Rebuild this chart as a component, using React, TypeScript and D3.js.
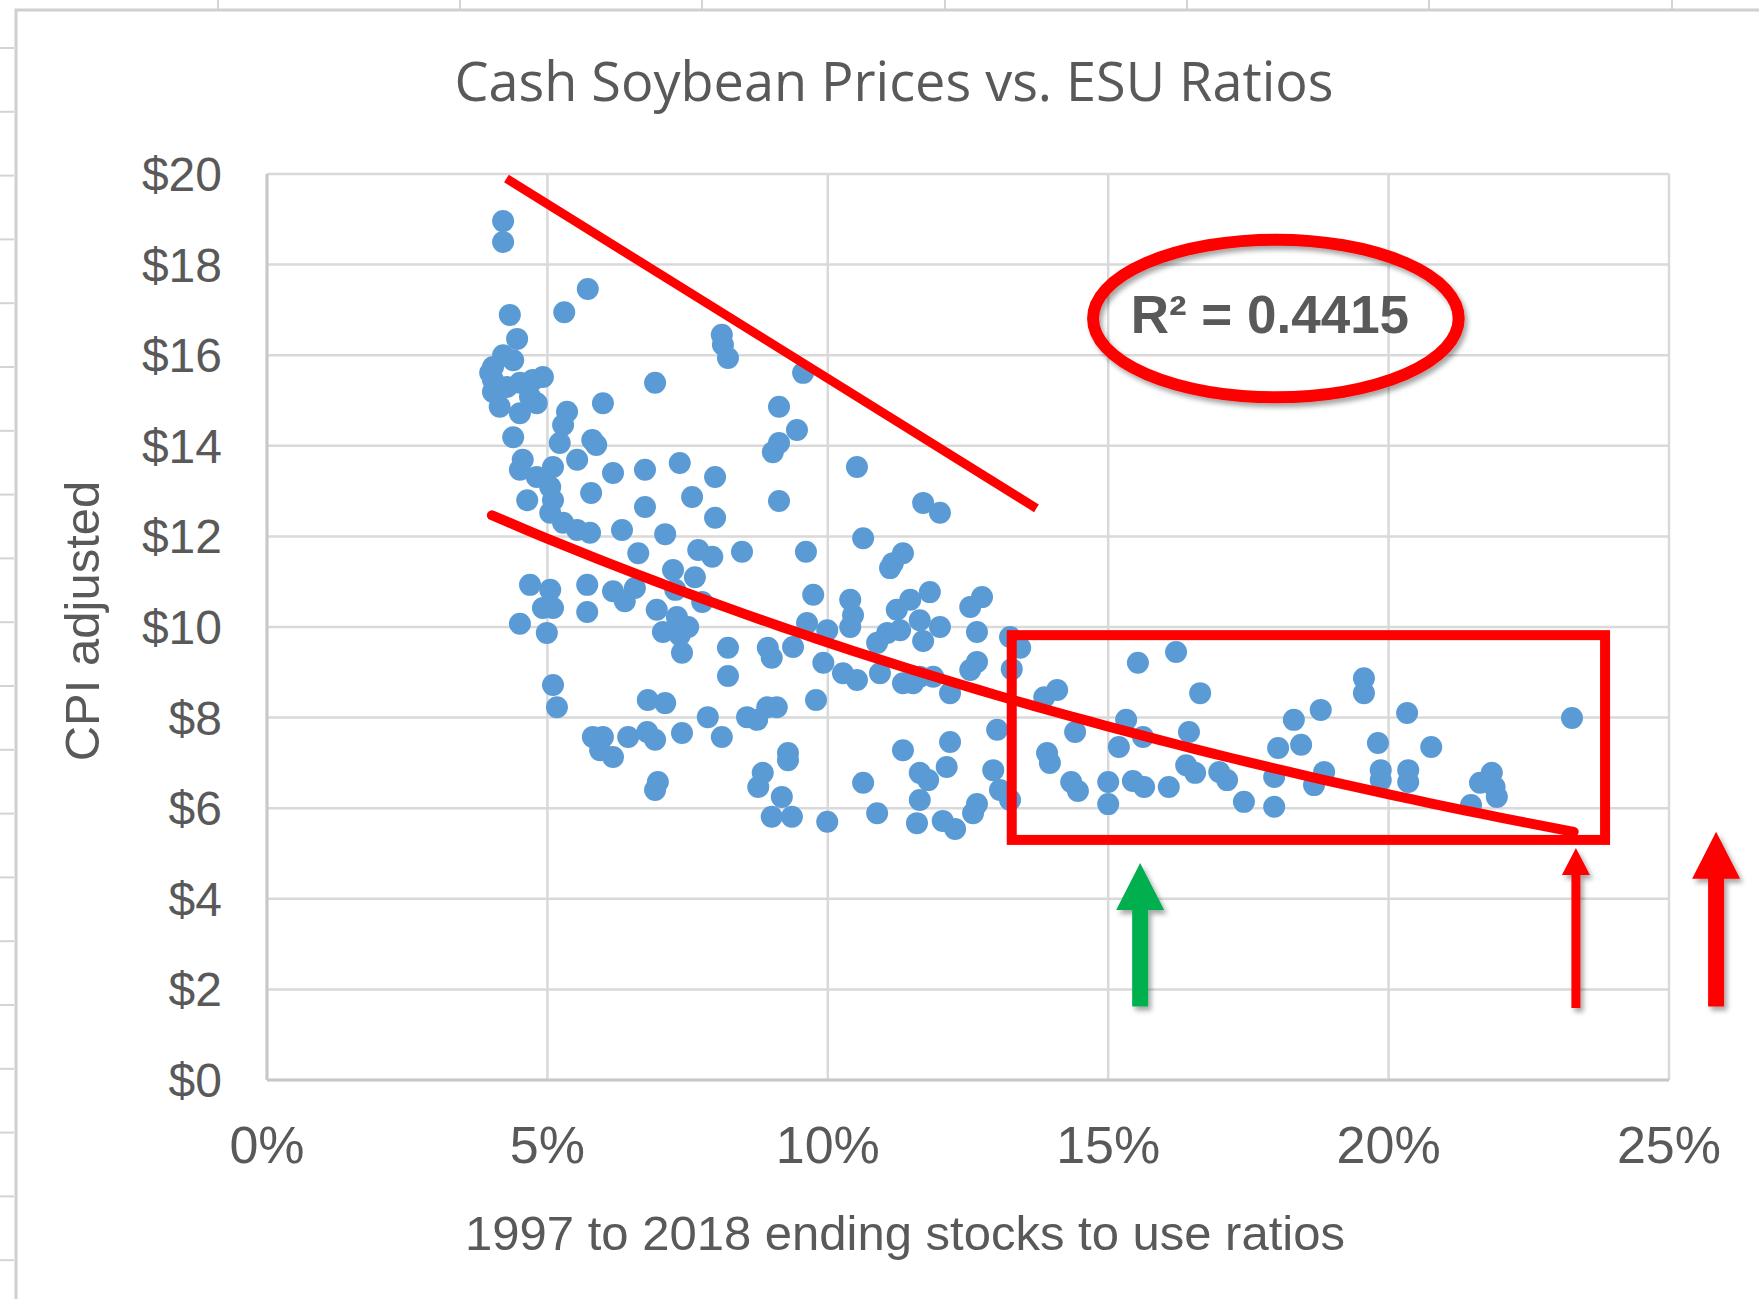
import React from "react";
import * as d3 from "d3";

const W = 1759;
const H = 1299;

const stocksToUse = [
  0.0421, 0.0421, 0.0433, 0.053, 0.0572, 0.0446, 0.0421, 0.0439, 0.0403, 0.0398,
  0.0492, 0.0474, 0.0451, 0.0428, 0.0403, 0.0415, 0.0451, 0.0481, 0.0469, 0.0403,
  0.0439, 0.0692, 0.0599, 0.0811, 0.0813, 0.0822, 0.0956, 0.0913, 0.0945, 0.0913,
  0.0902, 0.0535, 0.0528, 0.0522, 0.058, 0.0587, 0.0553, 0.0456, 0.0451, 0.0481,
  0.051, 0.0617, 0.0674, 0.0736, 0.0799, 0.1052, 0.0464, 0.0505, 0.051, 0.0505,
  0.0578, 0.0674, 0.0758, 0.0799, 0.0913, 0.117, 0.12, 0.0528, 0.0553, 0.0576,
  0.0633, 0.071, 0.0769, 0.0794, 0.0847, 0.0961, 0.1063, 0.1134, 0.1116, 0.1111,
  0.0662, 0.0469, 0.0505, 0.051, 0.0492, 0.0571, 0.0571, 0.0617, 0.0638, 0.0656,
  0.0451, 0.0499, 0.0695, 0.0706, 0.0731, 0.0751, 0.0736, 0.074, 0.0724, 0.0728,
  0.0763, 0.0776, 0.0822, 0.0822, 0.0893, 0.09, 0.0938, 0.0974, 0.104, 0.1045,
  0.104, 0.0963, 0.0999, 0.0992, 0.1027, 0.1052, 0.1088, 0.1093, 0.1134, 0.1164,
  0.1123, 0.1147, 0.1182, 0.1164, 0.117, 0.1129, 0.1106, 0.12, 0.051, 0.0517,
  0.0679, 0.071, 0.0581, 0.0599, 0.0594, 0.0617, 0.0644, 0.0678, 0.0692, 0.074,
  0.0786, 0.0811, 0.0856, 0.0874, 0.0892, 0.0909, 0.0979, 0.1134, 0.0697, 0.0692,
  0.0884, 0.0876, 0.0929, 0.0929, 0.0918, 0.09, 0.0936, 0.0999, 0.1063, 0.1088,
  0.1164, 0.1179, 0.1164, 0.1159, 0.1205, 0.1227, 0.1212, 0.1218, 0.1266, 0.1259,
  0.1295, 0.1307, 0.1325, 0.1302, 0.1391, 0.1396, 0.1386, 0.1409, 0.1254, 0.1275,
  0.1266, 0.1325, 0.1343, 0.1328, 0.1266, 0.1254, 0.1188, 0.1218, 0.1152, 0.1553,
  0.1621, 0.1664, 0.1441, 0.1532, 0.1519, 0.1562, 0.1434, 0.1446, 0.15, 0.15,
  0.1544, 0.1564, 0.1608, 0.1639, 0.1655, 0.1698, 0.1712, 0.1742, 0.1796, 0.1803,
  0.1796, 0.1644, 0.1831, 0.1844, 0.1879, 0.1885, 0.1867, 0.1956, 0.1956, 0.2033,
  0.1981, 0.1986, 0.1986, 0.2035, 0.2035, 0.2076, 0.2147, 0.2163, 0.2184, 0.2189,
  0.2193, 0.2327,
];

// CPI adjusted cash soybean price, same order as stocksToUse
const cashPrice = [
  18.96, 18.5, 16.89, 16.95, 17.46, 16.36, 16.0, 15.89, 15.74, 15.61,
  15.52, 15.45, 15.39, 15.3, 15.19, 14.86, 14.72, 14.94, 15.08, 15.45,
  14.19, 15.39, 14.94, 16.45, 16.23, 15.94, 15.61, 14.86, 14.35, 14.06,
  13.86, 14.75, 14.46, 14.06, 14.13, 14.02, 13.69, 13.69, 13.47, 13.31,
  13.53, 13.4, 13.47, 13.62, 13.31, 13.53, 12.8, 13.09, 12.8, 12.52,
  12.96, 12.65, 12.87, 12.41, 12.78, 12.74, 12.52, 12.3, 12.14, 12.08,
  12.14, 12.05, 11.7, 11.55, 11.66, 11.66, 11.96, 11.63, 11.41, 11.3,
  11.63, 10.93, 10.82, 10.42, 10.42, 10.93, 10.33, 10.79, 10.57, 10.86,
  10.07, 9.87, 10.38, 9.89, 10.22, 10.0, 9.82, 9.43, 11.26, 10.82,
  11.1, 10.55, 9.54, 8.92, 9.54, 9.32, 9.56, 10.71, 10.6, 10.26,
  10.0, 10.09, 9.93, 9.21, 8.98, 8.83, 9.65, 8.98, 8.76, 8.9,
  10.38, 10.6, 10.77, 10.15, 9.69, 9.93, 9.87, 10.0, 8.72, 8.23,
  8.39, 8.32, 7.57, 7.57, 7.28, 7.13, 7.57, 7.68, 7.51, 7.66,
  8.01, 7.57, 8.01, 7.95, 8.23, 8.23, 8.39, 7.28, 6.58, 6.4,
  6.78, 6.47, 7.22, 7.06, 6.25, 5.81, 5.81, 5.7, 6.56, 5.89,
  6.78, 6.62, 6.18, 5.67, 5.72, 5.54, 6.91, 7.46, 6.09, 5.89,
  6.84, 6.4, 6.18, 7.73, 7.22, 7.0, 8.45, 8.61, 10.44, 10.66,
  9.89, 9.78, 9.54, 9.07, 9.23, 9.05, 8.9, 8.54, 8.76, 9.21,
  9.45, 8.54, 7.68, 7.95, 7.35, 7.57, 6.58, 6.38, 6.58, 6.09,
  6.6, 6.47, 6.47, 6.95, 6.78, 6.8, 6.62, 6.14, 6.03, 7.33,
  6.69, 7.68, 7.95, 7.4, 8.17, 6.8, 6.51, 8.87, 8.54, 8.1,
  7.44, 6.84, 6.62, 6.84, 6.58, 7.35, 6.07, 6.56, 6.78, 6.47,
  6.25, 7.99,
];

const xTicks = [0, 0.05, 0.1, 0.15, 0.2, 0.25];
const yTicks = [0, 2, 4, 6, 8, 10, 12, 14, 16, 18, 20];

// Excel exponential trendline y = a * e^(b*x)
const trendA = 14.79;
const trendB = -4.262;
const trendRange = [0.0401, 0.233];
const rSquaredLabel = "R² = 0.4415";

// hand drawn annotations, in data units
const upperLine: [number, number][] = [[0.0427, 19.9], [0.1372, 12.62]];
const boxCorners: [number, number][] = [[0.1328, 9.82], [0.2386, 5.3]];
const ellipseCenter: [number, number] = [0.1799, 16.81];
const ellipseRadii = [0.0326, 1.74];
const arrows = [
  { x: 0.1557, tip: 4.79, base: 1.62, color: "#00b050", shaft: 16, head: 48, headLen: 47 },
  { x: 0.2334, tip: 5.12, base: 1.59, color: "#ff0000", shaft: 9, head: 28, headLen: 27 },
  { x: 0.2584, tip: 5.48, base: 1.62, color: "#ff0000", shaft: 16, head: 48, headLen: 47 },
];

const title = "Cash Soybean Prices vs. ESU Ratios";
const xTitle = "1997 to 2018 ending stocks to use ratios";
const yTitle = "CPI adjusted";

const sans = "'Liberation Sans', Arial, sans-serif";
const grey = "#595959";

export default function App() {
  const x = d3.scaleLinear().domain([0, 0.25]).range([267, 1669]);
  const y = d3.scaleLinear().domain([0, 20]).range([1080, 174]);

  const trend = d3
    .line<number>()
    .x(d => x(d))
    .y(d => y(trendA * Math.exp(trendB * d)));
  const trendXs = d3.range(0, 61).map(i => trendRange[0] + ((trendRange[1] - trendRange[0]) * i) / 60);

  const pct = d3.format(".0%");

  // sheet row / column lines around the chart object
  const rows = d3.range(0, 20).map(i => 48 + i * 63.8);
  const cols = [218, 460, 702, 945, 1187, 1429, 1672];

  const arrowPath = (a: typeof arrows[0]) => {
    const cx = x(a.x);
    const t = y(a.tip);
    const b = y(a.base);
    const hl = a.headLen;
    return `M${cx},${t} L${cx + a.head / 2},${t + hl} L${cx + a.shaft / 2},${t + hl} L${cx + a.shaft / 2},${b} L${cx - a.shaft / 2},${b} L${cx - a.shaft / 2},${t + hl} L${cx - a.head / 2},${t + hl} Z`;
  };

  return (
    <svg width={W} height={H} style={{ position: "absolute", left: 0, top: 0, background: "#fff" }}>
      <defs>
        <filter id="shadow" x="-20%" y="-20%" width="140%" height="140%">
          <feDropShadow dx="3" dy="4" stdDeviation="2.5" floodColor="#000" floodOpacity="0.35" />
        </filter>
      </defs>

      {/* spreadsheet behind */}
      {rows.map((r, i) => (
        <line key={"r" + i} x1={0} x2={14} y1={r} y2={r} stroke="#d4d4d4" strokeWidth={2} />
      ))}
      {cols.map((c, i) => (
        <line key={"c" + i} x1={c} x2={c} y1={0} y2={10} stroke="#d4d4d4" strokeWidth={2} />
      ))}
      <rect x={16} y={10} width={W} height={H} fill="#fff" stroke="#d0d0d0" strokeWidth={3} />

      <text x={894} y={101} textAnchor="middle" fontFamily="'Open Sans', sans-serif" fontSize={54} fill={grey}>
        {title}
      </text>

      {/* gridlines */}
      {yTicks.map(t => (
        <line key={"gy" + t} x1={x(0)} x2={x(0.25)} y1={y(t)} y2={y(t)} stroke="#d9d9d9" strokeWidth={2.5} />
      ))}
      {xTicks.map(t => (
        <line key={"gx" + t} x1={x(t)} x2={x(t)} y1={y(0)} y2={y(20)} stroke="#d9d9d9" strokeWidth={2.5} />
      ))}
      <line x1={x(0)} x2={x(0)} y1={y(0)} y2={y(20)} stroke="#c8c8c8" strokeWidth={3} />
      <line x1={x(0)} x2={x(0.25)} y1={y(0)} y2={y(0)} stroke="#c8c8c8" strokeWidth={3} />

      {/* tick labels */}
      {yTicks.map(t => (
        <text key={"ly" + t} x={222} y={y(t) + 17} textAnchor="end" fontFamily={sans} fontSize={48} fill={grey}>
          {"$" + t}
        </text>
      ))}
      {xTicks.map(t => (
        <text key={"lx" + t} x={x(t)} y={1163} textAnchor="middle" fontFamily={sans} fontSize={52} fill={grey}>
          {pct(t)}
        </text>
      ))}

      <text x={905} y={1250} textAnchor="middle" fontFamily={sans} fontSize={49} fill={grey}>
        {xTitle}
      </text>
      <text
        transform="translate(99,621) rotate(-90)"
        textAnchor="middle"
        fontFamily={sans}
        fontSize={49}
        fill={grey}
      >
        {yTitle}
      </text>

      {/* observations */}
      {stocksToUse.map((v, i) => (
        <circle key={"p" + i} cx={x(v)} cy={y(cashPrice[i])} r={11} fill="#5b9bd5" />
      ))}

      {/* trendline + annotations */}
      <path d={trend(trendXs) || ""} fill="none" stroke="#ff0000" strokeWidth={10} strokeLinecap="round" />
      <line
        x1={x(upperLine[0][0])}
        y1={y(upperLine[0][1])}
        x2={x(upperLine[1][0])}
        y2={y(upperLine[1][1])}
        stroke="#ff0000"
        strokeWidth={9}
      />
      <rect
        x={x(boxCorners[0][0])}
        y={y(boxCorners[0][1])}
        width={x(boxCorners[1][0]) - x(boxCorners[0][0])}
        height={y(boxCorners[1][1]) - y(boxCorners[0][1])}
        fill="none"
        stroke="#ff0000"
        strokeWidth={10}
      />
      <ellipse
        cx={x(ellipseCenter[0])}
        cy={y(ellipseCenter[1])}
        rx={x(ellipseRadii[0]) - x(0)}
        ry={y(0) - y(ellipseRadii[1])}
        fill="none"
        stroke="#ff0000"
        strokeWidth={12}
        filter="url(#shadow)"
      />
      <text x={x(ellipseCenter[0]) - 6} y={333} textAnchor="middle" fontFamily={sans} fontWeight="bold" fontSize={53} fill={grey}>
        {rSquaredLabel}
      </text>
      {arrows.map((a, i) => (
        <path key={"a" + i} d={arrowPath(a)} fill={a.color} filter="url(#shadow)" />
      ))}
    </svg>
  );
}
